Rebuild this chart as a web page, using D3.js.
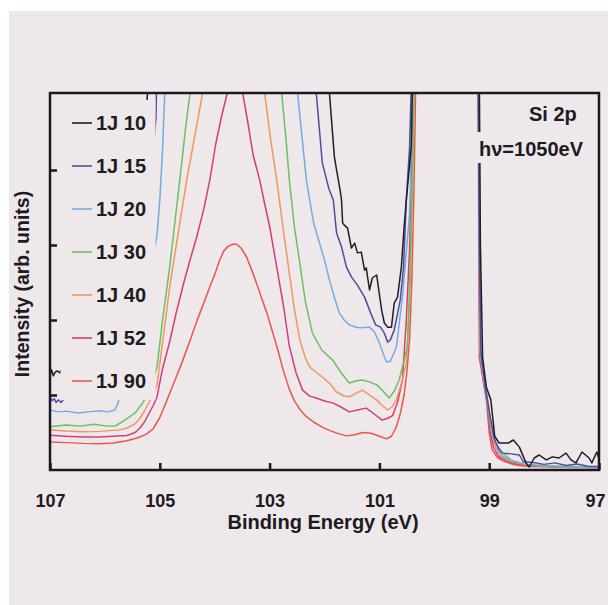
<!DOCTYPE html>
<html>
<head>
<meta charset="utf-8">
<script src="https://cdn.jsdelivr.net/npm/d3@7"></script>
<style>
  body { margin: 0; background: #ffffff; }
  text { font-family: "Liberation Sans", Arial, sans-serif; font-weight: bold; fill: #1e1a22; }
</style>
</head>
<body>
<div id="chart"></div>
<script>
// series labels and colours
var labels = ["1J 10", "1J 15", "1J 20", "1J 30", "1J 40", "1J 52", "1J 90"];
var colors = ["#221c26", "#4e4e9e", "#72ace4", "#6cc05c", "#f0965c", "#d63c78", "#e95846"];

// x tick labels (binding energy, eV)
var xTicks = [107, 105, 103, 101, 99, 97];
var yTicks = [2, 4, 6, 8];

// [binding energy, intensity] (values > 10 are off-scale)
var s10 = [[107.0,2.51],[106.97,2.67],[106.94,2.51],[106.9,2.62],[106.86,2.64],[106.82,2.59],[106.5,3.5],[105.5,6.0],[105.25,9.6],[105.22,10.1],[104.8,14],[103.5,15],[102.2,14],[101.91,10.05],[101.82,8.35],[101.78,8.0],[101.72,7.5],[101.69,7.2],[101.67,6.59],[101.64,6.53],[101.58,6.45],[101.51,5.92],[101.45,6.05],[101.4,5.79],[101.33,5.81],[101.27,5.33],[101.24,5.39],[101.18,4.8],[101.13,5.12],[101.05,5.2],[100.96,4.27],[100.91,3.92],[100.85,3.81],[100.78,3.81],[100.73,4.45],[100.67,4.61],[100.6,5.41],[100.55,6.48],[100.51,7.2],[100.42,8.61],[100.4,10.2],[100.35,13],[99.8,15],[99.3,13],[99.18,10.5],[99.16,6.0],[99.12,3.0],[99.05,2.2],[98.97,1.87],[98.9,0.9],[98.82,0.72],[98.65,0.72],[98.56,0.8],[98.45,0.61],[98.33,0.19],[98.27,0.08],[98.18,0.32],[98.09,0.4],[97.96,0.27],[97.85,0.35],[97.73,0.32],[97.6,0.45],[97.51,0.27],[97.42,0.19],[97.31,0.48],[97.18,0.32],[97.13,0.19],[97.04,0.48],[97.0,0.3]];
var s15 = [[107.0,1.95],[106.96,1.85],[106.92,1.9],[106.89,1.8],[106.85,1.87],[106.8,1.8],[106.4,2.5],[105.4,5.0],[105.12,8.5],[105.07,9.39],[105.06,10.1],[104.8,13],[103.5,14],[102.4,13],[102.15,10.05],[102.04,8.19],[101.92,7.5],[101.84,7.2],[101.78,6.32],[101.69,5.95],[101.6,5.41],[101.51,5.15],[101.4,4.93],[101.27,4.61],[101.16,4.19],[101.07,3.87],[100.98,3.81],[100.91,3.65],[100.85,3.41],[100.8,3.47],[100.73,3.73],[100.62,4.53],[100.56,5.41],[100.51,7.2],[100.45,8.61],[100.42,10.2],[100.36,13],[99.8,15],[99.3,13],[99.2,10.5],[99.18,6.0],[99.15,3.1],[99.06,2.1],[98.98,1.4],[98.9,0.8],[98.82,0.55],[98.76,0.45],[98.6,0.43],[98.45,0.4],[98.38,0.22],[98.2,0.2],[98.0,0.15],[97.8,0.19],[97.6,0.12],[97.4,0.16],[97.2,0.1],[97.0,0.09]];
var s20 = [[107.0,1.6],[106.85,1.55],[106.7,1.57],[106.5,1.52],[106.3,1.55],[106.1,1.58],[105.95,1.55],[105.82,1.6],[105.76,1.79],[105.4,3.5],[105.05,6.27],[105.0,7.2],[104.95,8.53],[104.91,10.05],[104.6,13],[103.5,14],[102.7,12],[102.49,10.05],[102.33,7.73],[102.2,6.6],[102.1,6.1],[102.0,5.6],[101.91,5.07],[101.82,4.6],[101.73,4.19],[101.64,4.0],[101.55,3.87],[101.45,3.82],[101.36,3.79],[101.27,3.8],[101.18,3.81],[101.09,3.68],[101.0,3.39],[100.93,3.1],[100.87,2.88],[100.8,2.9],[100.74,3.1],[100.69,3.28],[100.58,4.61],[100.45,6.85],[100.41,9.0],[100.39,10.2],[100.33,13],[99.8,15],[99.3,13],[99.2,10.5],[99.18,6.0],[99.16,3.1],[99.08,2.2],[99.0,1.5],[98.94,0.95],[98.86,0.6],[98.76,0.38],[98.6,0.24],[98.3,0.15],[98.0,0.12],[97.6,0.1],[97.0,0.07]];
var s30 = [[107.0,1.15],[106.7,1.2],[106.45,1.17],[106.2,1.22],[105.95,1.17],[105.8,1.18],[105.64,1.33],[105.45,1.52],[105.31,1.79],[105.18,2.13],[105.05,2.75],[104.95,4.0],[104.82,5.41],[104.71,6.8],[104.6,8.19],[104.53,9.12],[104.45,10.05],[104.2,12],[103.6,13],[103.0,12],[102.78,10.05],[102.7,8.8],[102.64,7.73],[102.55,6.5],[102.45,5.52],[102.35,4.5],[102.22,3.65],[102.05,3.2],[101.85,2.93],[101.7,2.6],[101.55,2.32],[101.42,2.38],[101.31,2.4],[101.18,2.35],[101.05,2.27],[100.93,2.1],[100.82,1.92],[100.73,2.1],[100.64,2.4],[100.49,3.28],[100.44,5.33],[100.4,7.73],[100.37,10.2],[100.32,13],[99.8,15],[99.3,13],[99.2,10.5],[99.18,6.0],[99.16,3.1],[99.08,2.3],[99.01,1.7],[98.96,1.1],[98.88,0.7],[98.78,0.5],[98.6,0.26],[98.3,0.13],[97.7,0.08],[97.0,0.07]];
var s40 = [[107.0,1.07],[106.7,1.04],[106.4,1.02],[106.1,1.03],[105.9,1.05],[105.73,1.07],[105.6,1.12],[105.45,1.23],[105.36,1.38],[105.27,1.6],[105.15,1.92],[105.05,2.27],[104.95,3.4],[104.82,4.88],[104.67,6.27],[104.51,7.73],[104.36,8.93],[104.22,10.05],[104.0,12],[103.6,13],[103.2,12],[103.09,10.05],[102.98,8.8],[102.87,7.73],[102.75,6.4],[102.64,5.25],[102.55,4.3],[102.45,3.47],[102.35,3.0],[102.27,2.75],[102.15,2.6],[102.04,2.48],[101.9,2.3],[101.78,2.08],[101.65,1.98],[101.55,1.95],[101.42,2.05],[101.31,2.13],[101.18,2.0],[101.05,1.87],[100.95,1.72],[100.85,1.6],[100.77,1.68],[100.69,1.87],[100.6,2.3],[100.51,2.85],[100.45,4.53],[100.4,7.47],[100.36,10.2],[100.32,13],[99.8,15],[99.3,13],[99.2,10.5],[99.18,6.0],[99.16,3.1],[99.09,2.3],[99.02,1.8],[98.97,1.1],[98.9,0.65],[98.8,0.38],[98.65,0.25],[98.45,0.17],[98.1,0.11],[97.5,0.08],[97.0,0.07]];
var s52 = [[107.0,0.93],[106.7,0.9],[106.4,0.88],[106.1,0.88],[105.85,0.9],[105.6,0.92],[105.45,1.0],[105.36,1.12],[105.27,1.3],[105.2,1.5],[105.12,1.72],[105.05,1.95],[104.95,2.7],[104.82,3.42],[104.7,4.2],[104.58,4.9],[104.45,5.6],[104.33,6.2],[104.2,6.95],[104.09,7.73],[103.98,8.7],[103.88,9.4],[103.78,10.0],[103.7,11],[103.6,11.5],[103.49,10.05],[103.4,9.3],[103.3,8.4],[103.18,7.73],[103.09,7.1],[103.0,6.5],[102.87,5.41],[102.75,4.4],[102.64,3.3],[102.52,2.6],[102.4,2.13],[102.27,1.97],[102.15,1.92],[102.0,1.84],[101.85,1.79],[101.7,1.68],[101.55,1.55],[101.4,1.6],[101.24,1.65],[101.1,1.5],[100.95,1.33],[100.85,1.38],[100.76,1.45],[100.67,1.8],[100.58,2.4],[100.51,4.0],[100.45,5.9],[100.42,8.0],[100.38,10.2],[100.33,13],[99.8,15],[99.3,13],[99.2,10.5],[99.18,6.0],[99.17,3.1],[99.1,2.3],[99.03,1.8],[98.98,1.0],[98.92,0.6],[98.83,0.36],[98.7,0.25],[98.5,0.16],[98.2,0.11],[97.6,0.08],[97.0,0.07]];
var s90 = [[107.0,0.75],[106.7,0.73],[106.4,0.71],[106.1,0.7],[105.85,0.72],[105.6,0.78],[105.4,0.86],[105.25,0.95],[105.12,1.1],[105.0,1.4],[104.9,1.75],[104.75,2.3],[104.6,2.85],[104.45,3.45],[104.33,3.95],[104.2,4.45],[104.09,4.88],[103.99,5.25],[103.91,5.6],[103.83,5.85],[103.75,5.97],[103.67,6.02],[103.6,6.02],[103.52,5.92],[103.42,5.68],[103.33,5.35],[103.24,4.99],[103.15,4.6],[103.05,4.19],[102.95,3.7],[102.85,3.2],[102.75,2.65],[102.64,2.15],[102.55,1.85],[102.45,1.62],[102.35,1.45],[102.2,1.28],[102.05,1.15],[101.9,1.05],[101.75,0.97],[101.6,0.91],[101.45,0.94],[101.3,1.0],[101.15,0.98],[101.0,0.9],[100.87,0.83],[100.78,0.9],[100.7,1.12],[100.62,1.5],[100.55,2.0],[100.5,2.6],[100.45,3.5],[100.41,5.0],[100.37,7.5],[100.34,10.2],[100.3,13],[99.8,15],[99.3,13],[99.2,10.5],[99.19,6.0],[99.18,3.0],[99.11,2.4],[99.05,1.85],[99.0,1.0],[98.95,0.55],[98.85,0.33],[98.76,0.25],[98.55,0.14],[98.33,0.1],[97.73,0.07],[97.0,0.06]];

var allSeries = [s10, s15, s20, s30, s40, s52, s90];

var W = 608, H = 605;
var margin = { left: 50, right: 599, top: 93, bottom: 470 };
var ink = "#1c1820";
var bg = "#eee8ea";

var svg = d3.select("#chart").append("svg")
    .attr("width", W)
    .attr("height", H);

// scanned paper
svg.append("rect").attr("x", 9).attr("y", 11).attr("width", W - 9).attr("height", H - 11).attr("fill", bg);

var x = d3.scaleLinear().domain([107, 97]).range([margin.left, margin.right]);
var y = d3.scaleLinear().domain([0, 10]).range([margin.bottom, 95]);

svg.append("clipPath").attr("id", "plotclip")
    .append("rect")
    .attr("x", margin.left).attr("y", margin.top)
    .attr("width", margin.right - margin.left).attr("height", margin.bottom - margin.top);

var line = d3.line()
    .x(function(d) { return x(d[0]); })
    .y(function(d) { return y(d[1]); });

var curves = svg.append("g").attr("clip-path", "url(#plotclip)");
// draw red first so black ends on top like the scan
for (var i = allSeries.length - 1; i >= 0; i--) {
    curves.append("path")
        .attr("d", line(allSeries[i]))
        .attr("fill", "none")
        .attr("stroke", colors[i])
        .attr("stroke-width", 1.5)
        .attr("stroke-linejoin", "round");
}

// opaque legend / annotation backgrounds hide the curves behind them
svg.append("rect").attr("x", 60.5).attr("y", 100).attr("width", 95).attr("height", 300).attr("fill", bg);
svg.append("rect").attr("x", 476).attr("y", 132).attr("width", 116).attr("height", 31).attr("fill", bg);

// axes
var xAxis = d3.axisBottom(x)
    .tickValues(xTicks)
    .tickSizeInner(-7)
    .tickSizeOuter(0)
    .tickPadding(24)
    .tickFormat(d3.format("d"));

var xg = svg.append("g")
    .attr("transform", "translate(0," + margin.bottom + ")")
    .call(xAxis);
xg.select(".domain").remove();
xg.selectAll("line").attr("stroke", ink).attr("stroke-width", 2.5);
xg.selectAll("text")
    .attr("font-size", 18)
    .attr("font-family", "Liberation Sans, Arial, sans-serif")
    .attr("font-weight", "bold")
    .attr("fill", ink)
    .attr("dx", function(d) { return d === 97 ? -4 : 0; });

var yAxis = d3.axisLeft(y)
    .tickValues(yTicks)
    .tickSizeInner(-7)
    .tickSizeOuter(0)
    .tickFormat("");

var yg = svg.append("g")
    .attr("transform", "translate(" + margin.left + ",0)")
    .call(yAxis);
yg.select(".domain").remove();
yg.selectAll("line").attr("stroke", ink).attr("stroke-width", 2.5);

// frame
svg.append("rect")
    .attr("x", margin.left).attr("y", margin.top)
    .attr("width", margin.right - margin.left).attr("height", margin.bottom - margin.top)
    .attr("fill", "none")
    .attr("stroke", ink)
    .attr("stroke-width", 2.5);

// axis labels
svg.append("text")
    .attr("x", 323)
    .attr("y", 529)
    .attr("text-anchor", "middle")
    .attr("font-size", 20)
    .text("Binding Energy (eV)");

svg.append("text")
    .attr("transform", "translate(29,284) rotate(-90)")
    .attr("text-anchor", "middle")
    .attr("font-size", 19.5)
    .text("Intensity (arb. units)");

// legend
var legend = svg.selectAll(".legend")
    .data(labels)
    .enter()
    .append("g")
    .attr("class", "legend")
    .attr("transform", function(d, i) { return "translate(0," + (123 + 43 * i) + ")"; });

legend.append("line")
    .attr("x1", 72).attr("x2", 92)
    .attr("y1", 0).attr("y2", 0)
    .attr("stroke", function(d, i) { return colors[i]; })
    .attr("stroke-width", 1.6);

legend.append("text")
    .attr("x", 96)
    .attr("y", 7)
    .attr("font-size", 20)
    .text(function(d) { return d; });

// annotation
svg.append("text").attr("x", 529).attr("y", 121).attr("font-size", 20).text("Si 2p");
svg.append("text").attr("x", 479).attr("y", 156).attr("font-size", 20).text("h\u03bd=1050eV");
</script>
</body>
</html>
